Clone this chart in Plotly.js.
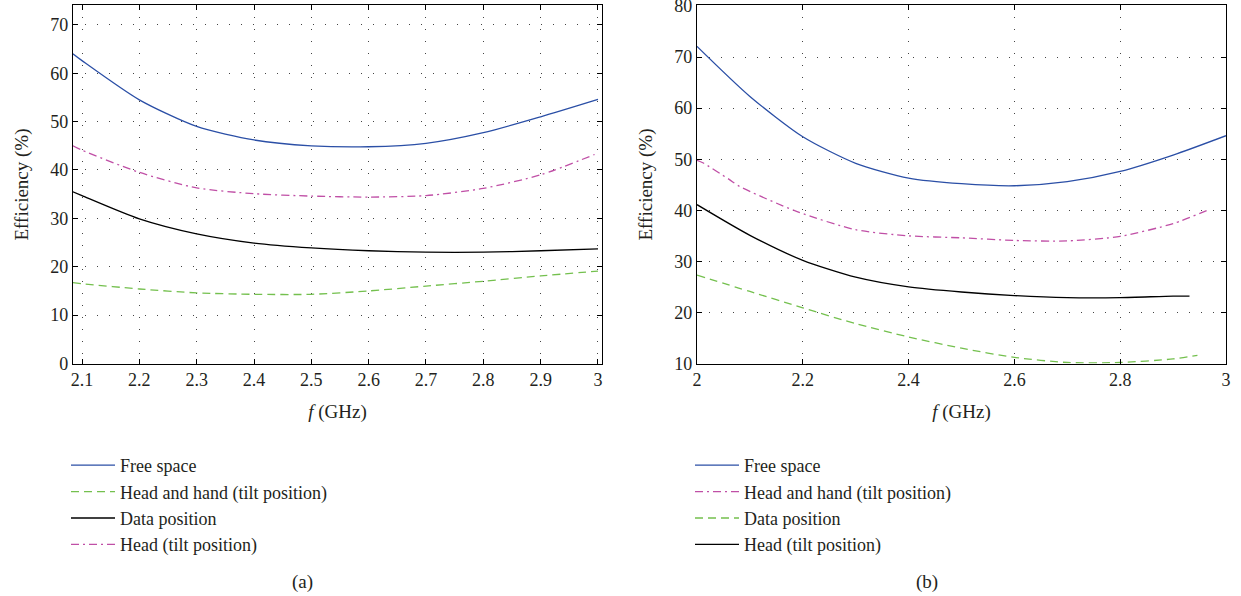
<!DOCTYPE html>
<html>
<head>
<meta charset="utf-8">
<script src="https://cdn.plot.ly/plotly-3.0.1.min.js"></script>
<style>
html,body{margin:0;padding:0;background:#fff;}
#chart{width:1241px;height:596px;}
</style>
</head>
<body>
<div id="chart"></div>
<script>
// ---- Panel (a) data ----
const xA = [2.084, 2.1, 2.2, 2.3, 2.4, 2.5, 2.6, 2.7, 2.8, 2.9, 3.0];
const xAHead = [2.084, 2.1, 2.2, 2.3, 2.4, 2.5, 2.6, 2.7, 2.8, 2.9, 2.994];
const aFreeSpace = [64.0, 62.6, 54.5, 49.0, 46.2, 45.0, 44.8, 45.5, 47.7, 51.0, 54.6];
const aHeadHand = [16.7, 16.5, 15.4, 14.6, 14.3, 14.3, 15.0, 16.0, 17.0, 18.1, 19.1];
const aData = [35.5, 34.7, 29.9, 26.8, 24.9, 23.9, 23.3, 23.0, 23.0, 23.3, 23.7];
const aHead = [45.0, 44.1, 39.5, 36.3, 35.1, 34.6, 34.4, 34.7, 36.2, 39.0, 43.2];

// ---- Panel (b) data ----
const xB = [2.0, 2.1, 2.2, 2.3, 2.4, 2.5, 2.6, 2.7, 2.8, 2.9, 3.0];
const bFreeSpace = [72.1, 62.3, 54.4, 49.2, 46.3, 45.2, 44.8, 45.6, 47.6, 50.8, 54.6];
const xBHeadHand = [2.0, 2.011, 2.06, 2.08, 2.188, 2.3, 2.4, 2.5, 2.6, 2.7, 2.8, 2.9, 2.97];
const bHeadHand = [49.8, 49.3, 46.1, 44.7, 39.8, 36.2, 35.0, 34.6, 34.1, 34.0, 34.9, 37.4, 40.2];
const xBData = [2.0, 2.1, 2.2, 2.3, 2.4, 2.5, 2.6, 2.7, 2.8, 2.9, 2.946];
const bData = [27.3, 24.1, 20.9, 17.8, 15.2, 13.0, 11.2, 10.2, 10.2, 10.9, 11.6];
const xBHead = [2.0, 2.1, 2.2, 2.3, 2.4, 2.5, 2.6, 2.7, 2.8, 2.9, 2.931];
const bHead = [41.1, 35.1, 30.2, 26.9, 25.0, 24.0, 23.3, 22.9, 22.9, 23.2, 23.2];

const xTicksA = [2.1, 2.2, 2.3, 2.4, 2.5, 2.6, 2.7, 2.8, 2.9, 3];
const xTickTextA = ['2.1', '2.2', '2.3', '2.4', '2.5', '2.6', '2.7', '2.8', '2.9', '3'];
const yTicksA = [0, 10, 20, 30, 40, 50, 60, 70];
const xTicksB = [2, 2.2, 2.4, 2.6, 2.8, 3];
const xTickTextB = ['2', '2.2', '2.4', '2.6', '2.8', '3'];
const yTicksB = [10, 20, 30, 40, 50, 60, 70, 80];

const labels = ['Free space', 'Head and hand (tilt position)', 'Data position', 'Head (tilt position)'];

const BLUE = '#2b4fa6', GREEN = '#74c04e', BLACK = '#000000', MAGENTA = '#c04fa6';
const FONT = "'Liberation Serif', 'Times New Roman', serif";
const GREENDASH = '8px,5px';
const MAGDASH = '8px,4px,2px,4px';

function tr(x, y, name, color, dash, xa, ya, leg) {
  return {
    x: x, y: y, name: name, type: 'scatter', mode: 'lines',
    line: {color: color, width: 1.3, dash: dash, shape: 'spline', smoothing: 0.7},
    xaxis: xa, yaxis: ya, legend: leg, legendgroup: leg + name, hoverinfo: 'skip'
  };
}

const traces = [
  tr(xA, aFreeSpace, labels[0], BLUE, 'solid', 'x', 'y', 'legend'),
  tr(xA, aHeadHand, labels[1], GREEN, GREENDASH, 'x', 'y', 'legend'),
  tr(xA, aData, labels[2], BLACK, 'solid', 'x', 'y', 'legend'),
  tr(xAHead, aHead, labels[3], MAGENTA, MAGDASH, 'x', 'y', 'legend'),
  tr(xB, bFreeSpace, labels[0], BLUE, 'solid', 'x2', 'y2', 'legend2'),
  tr(xBHeadHand, bHeadHand, labels[1], MAGENTA, MAGDASH, 'x2', 'y2', 'legend2'),
  tr(xBData, bData, labels[2], GREEN, GREENDASH, 'x2', 'y2', 'legend2'),
  tr(xBHead, bHead, labels[3], BLACK, 'solid', 'x2', 'y2', 'legend2')
];

const tickFont = {family: FONT, size: 18, color: '#231f20'};
const titleFont = {family: FONT, size: 19, color: '#231f20'};
const grid = {showgrid: true, gridcolor: '#444', gridwidth: 1, griddash: '1px,11px'};
function axisCommon() {
  return Object.assign({
    showline: true, linecolor: '#000', linewidth: 1.2, mirror: 'ticks',
    ticks: 'inside', ticklen: 5, tickcolor: '#000', tickwidth: 1,
    zeroline: false, tickfont: tickFont, automargin: false, fixedrange: true,
    ticklabeloverflow: 'allow'
  }, grid);
}

const yDom = [0.3901, 0.9908];
const legendCommon = {
  xanchor: 'left', yanchor: 'top', bgcolor: 'rgba(0,0,0,0)', borderwidth: 0,
  font: {family: FONT, size: 18, color: '#231f20'}, tracegroupgap: 0, itemwidth: 44
};

const layout = {
  width: 1241, height: 596,
  margin: {l: 0, r: 0, t: 0, b: 0},
  font: {family: FONT},
  paper_bgcolor: '#fff', plot_bgcolor: '#fff',
  showlegend: true,
  xaxis: Object.assign(axisCommon(), {
    domain: [73/1241, 602/1241], range: [2.0843, 3.007],
    tickvals: xTicksA, ticktext: xTickTextA, anchor: 'y',
    title: {text: '<i>f</i> (GHz)', font: titleFont, standoff: 15}
  }),
  yaxis: Object.assign(axisCommon(), {
    domain: yDom, range: [0, 74], tickvals: yTicksA, anchor: 'x',
    title: {text: 'Efficiency (%)', font: titleFont, standoff: 16}
  }),
  xaxis2: Object.assign(axisCommon(), {
    domain: [697/1241, 1226/1241], range: [2, 3],
    tickvals: xTicksB, ticktext: xTickTextB, anchor: 'y2',
    title: {text: '<i>f</i> (GHz)', font: titleFont, standoff: 15}
  }),
  yaxis2: Object.assign(axisCommon(), {
    domain: yDom, range: [10, 80.1], tickvals: yTicksB, anchor: 'x2',
    title: {text: 'Efficiency (%)', font: titleFont, standoff: 16}
  }),
  legend: Object.assign({}, legendCommon, {x: 66/1241, y: 1 - 447/596}),
  legend2: Object.assign({}, legendCommon, {x: 690/1241, y: 1 - 447/596}),
  annotations: [
    {text: '(a)', x: 302/1241, y: 1 - 582/596, xref: 'paper', yref: 'paper', showarrow: false,
     xanchor: 'center', yanchor: 'middle', font: titleFont},
    {text: '(b)', x: 927/1241, y: 1 - 582/596, xref: 'paper', yref: 'paper', showarrow: false,
     xanchor: 'center', yanchor: 'middle', font: titleFont}
  ]
};

Plotly.newPlot('chart', traces, layout, {displayModeBar: false, staticPlot: true});
</script>
</body>
</html>
